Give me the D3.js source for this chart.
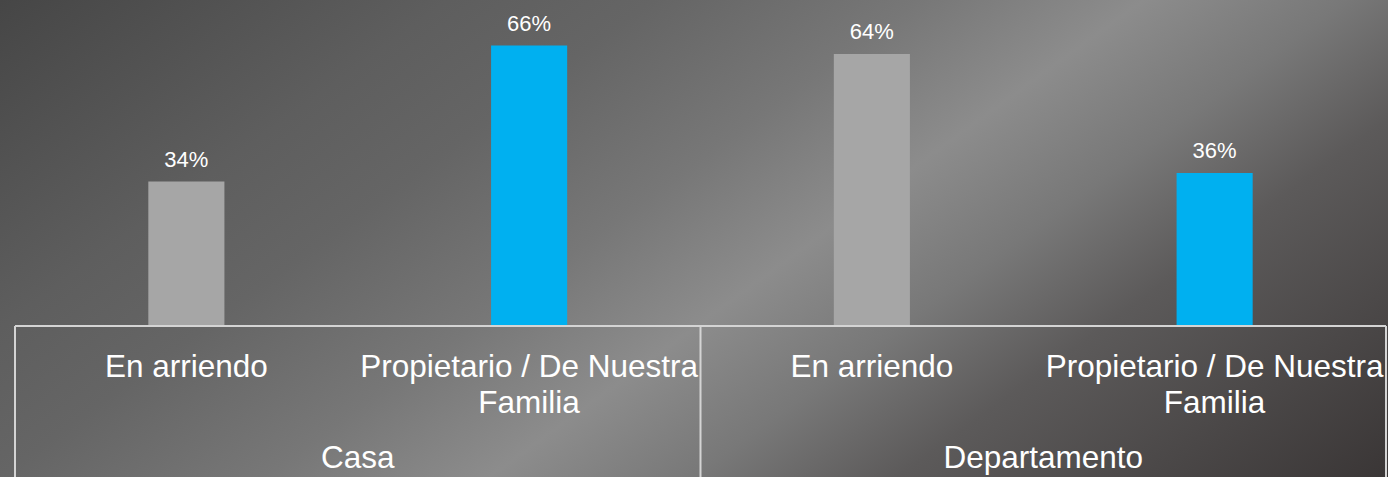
<!DOCTYPE html>
<html>
<head>
<meta charset="utf-8">
<script src="https://cdn.jsdelivr.net/npm/d3@7"></script>
<style>
  html, body { margin: 0; padding: 0; background: #555; }
  svg { display: block; }
  text { font-family: "Liberation Sans", Arial, sans-serif; fill: #ffffff; }
</style>
</head>
<body>
<svg id="chart" width="1388" height="477"></svg>
<script>
// ---- data ----
const groups = ["Casa", "Departamento"];
const categories = ["En arriendo", "Propietario / De Nuestra Familia", "En arriendo", "Propietario / De Nuestra Familia"];
const categoryLines = [["En arriendo"], ["Propietario / De Nuestra", "Familia"], ["En arriendo"], ["Propietario / De Nuestra", "Familia"]];
const categoryGroup = [0, 0, 1, 1];
const values = [0.34, 0.66, 0.64, 0.36];
const barColors = ["#a6a6a6", "#00b0f0", "#a6a6a6", "#00b0f0"];

const W = 1388, H = 477;
const left = 15, right = 1386, baseY = 326;

const svg = d3.select("#chart");

// background gradient
const defs = svg.append("defs");
const grad = defs.append("linearGradient")
  .attr("id", "bg").attr("gradientUnits", "userSpaceOnUse")
  .attr("x1", 0).attr("y1", 0).attr("x2", 709).attr("y2", 972);
[[0, "#464646"], [0.22, "#5e5e5e"], [0.32, "#656565"], [0.45, "#777777"],
 [0.56, "#8c8c8c"], [0.66, "#787878"], [0.76, "#5c5a5a"], [1, "#3a3636"]]
  .forEach(([o, c]) => grad.append("stop").attr("offset", o).attr("stop-color", c));
svg.append("rect").attr("width", W).attr("height", H).attr("fill", "url(#bg)");

// scales
const idx = d3.range(categories.length);
const x = d3.scaleBand().domain(idx).range([left, right]).padding(0);
const barW = x.bandwidth() * 0.222;
const y = d3.scaleLinear().domain([0, 0.7]).range([baseY, baseY - 0.7 * 425]);

// bars
svg.append("g").selectAll("rect").data(idx).join("rect")
  .attr("x", i => x(i) + x.bandwidth() / 2 - barW / 2)
  .attr("y", i => y(values[i]))
  .attr("width", barW)
  .attr("height", i => y(0) - y(values[i]))
  .attr("fill", i => barColors[i]);

// value labels
svg.append("g").selectAll("text").data(idx).join("text")
  .attr("x", i => x(i) + x.bandwidth() / 2)
  .attr("y", i => y(values[i]) - 15)
  .attr("text-anchor", "middle")
  .attr("font-size", 22)
  .text(i => d3.format(".0%")(values[i]));

// axis lines
const lineColor = "#d4d4d4";
const axisG = svg.append("g").attr("stroke", lineColor).attr("stroke-width", 2);
axisG.append("line").attr("x1", left).attr("x2", right).attr("y1", baseY).attr("y2", baseY);
const groupBounds = groups.map((g, gi) => {
  const members = idx.filter(i => categoryGroup[i] === gi);
  return [x(members[0]), x(members[members.length - 1]) + x.bandwidth()];
});
const dividers = [groupBounds[0][0]].concat(groupBounds.map(b => b[1]));
axisG.selectAll("line.div").data(dividers).join("line").attr("class", "div")
  .attr("x1", d => d).attr("x2", d => d).attr("y1", baseY).attr("y2", H);

// category labels
const catG = svg.append("g");
idx.forEach(i => {
  const t = catG.append("text")
    .attr("x", x(i) + x.bandwidth() / 2)
    .attr("y", 377)
    .attr("text-anchor", "middle")
    .attr("font-size", 31.5);
  categoryLines[i].forEach((ln, k) => {
    t.append("tspan").attr("x", x(i) + x.bandwidth() / 2).attr("dy", k === 0 ? 0 : 36).text(ln);
  });
});

// group labels
svg.append("g").selectAll("text").data(groups).join("text")
  .attr("x", (g, gi) => (groupBounds[gi][0] + groupBounds[gi][1]) / 2)
  .attr("y", 468)
  .attr("text-anchor", "middle")
  .attr("font-size", 31.5)
  .text(g => g);
</script>
</body>
</html>
